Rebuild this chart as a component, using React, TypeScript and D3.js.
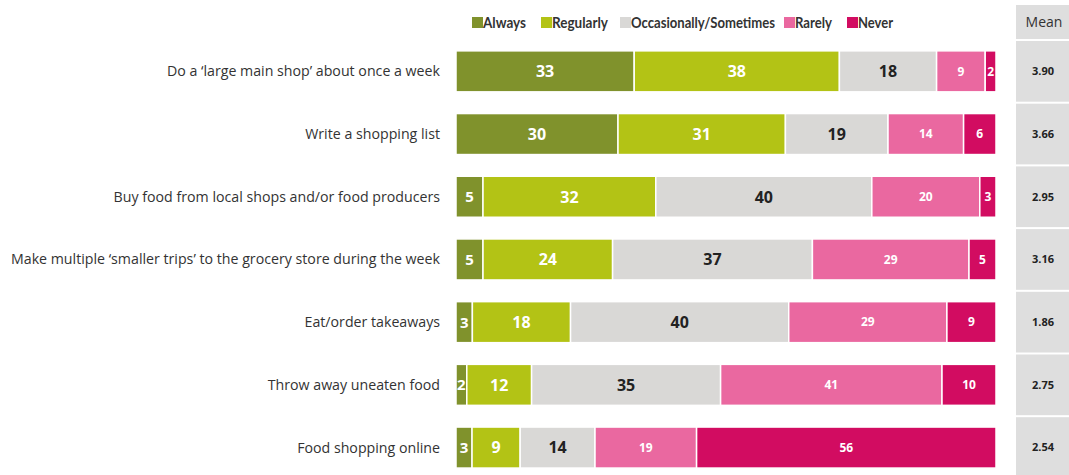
import React from "react";
import * as d3 from "d3";

const categories = [
  "Do a \u2018large main shop\u2019 about once a week",
  "Write a shopping list",
  "Buy food from local shops and/or food producers",
  "Make multiple \u2018smaller trips\u2019 to the grocery store during the week",
  "Eat/order takeaways",
  "Throw away uneaten food",
  "Food shopping online",
];
const seriesNames = ["Always", "Regularly", "Occasionally/Sometimes", "Rarely", "Never"];
const always = [33, 30, 5, 5, 3, 2, 3];
const regularly = [38, 31, 32, 24, 18, 12, 9];
const occasionally = [18, 19, 40, 37, 40, 35, 14];
const rarely = [9, 14, 20, 29, 29, 41, 19];
const never = [2, 6, 3, 5, 9, 10, 56];
const means = ["3.90", "3.66", "2.95", "3.16", "1.86", "2.75", "2.54"];

const colors = ["#80922c", "#b3c315", "#d9d8d6", "#ea68a0", "#d20c61"];
const textColors = ["#ffffff", "#ffffff", "#222222", "#ffffff", "#ffffff"];
const labelSizes = [16, 16, 16, 12, 12];

const W = 1069;
const H = 475;
const FONT = "'Open Sans', 'Noto Sans', sans-serif";

export default function App() {
  const series = [always, regularly, occasionally, rarely, never];
  const x0 = 456;
  const x1 = 996;
  const y = d3.scaleBand<string>().domain(categories).range([41, 41 + 7 * 62.7]).padding(0);
  const barH = 41;

  const legendX = [472, 541, 620, 784, 847];
  const legendW = [43, 56, 144, 37, 35];

  return (
    <svg width={W} height={H} style={{ position: "absolute", left: 0, top: 0, background: "#fff" }} fontFamily={FONT}>
      {/* legend */}
      {seriesNames.map((s, i) => (
        <g key={s}>
          <rect x={legendX[i]} y={17} width={11} height={11} fill={colors[i]} />
          <text
            x={legendX[i] + 11}
            y={27.5}
            fontSize={14.5}
            fontWeight={700}
            fontFamily="Lato, 'Open Sans', sans-serif"
            fill="#333"
            textLength={legendW[i]}
            lengthAdjust="spacingAndGlyphs"
          >
            {s}
          </text>
        </g>
      ))}
      {/* mean header */}
      <rect x={1016} y={5} width={53} height={34} fill="#dedede" />
      <text x={1044} y={27} fontSize={14} textAnchor="middle" fill="#333">
        Mean
      </text>
      {categories.map((c, r) => {
        const total = series.reduce((a, s) => a + s[r], 0);
        const x = d3.scaleLinear().domain([0, total]).range([x0, x1]);
        const by = (y(c) as number) + (y.bandwidth() - barH) / 2 - 1;
        let acc = 0;
        return (
          <g key={c}>
            <text
              x={440}
              y={by + barH / 2}
              dy="0.35em"
              textAnchor="end"
              fontSize={14.2}
              fill="#333"
            >
              {c}
            </text>
            {series.map((s, i) => {
              const v = s[r];
              const a = acc;
              acc += v;
              const xs = x(a);
              const xe = x(a + v);
              return (
                <g key={i}>
                  <rect x={xs} y={by} width={xe - xs} height={barH} fill={colors[i]} stroke="#fff" strokeWidth={1.5} />
                  <text
                    x={(xs + xe) / 2}
                    y={by + barH / 2}
                    dy="0.36em"
                    textAnchor="middle"
                    fontSize={labelSizes[i] + (v < 6 && i < 3 ? -1 : 0)}
                    fontWeight={700}
                    fill={textColors[i]}
                  >
                    {v}
                  </text>
                </g>
              );
            })}
            <rect x={1016} y={(y(c) as number)} width={53} height={y.bandwidth() - 2} fill="#dedede" />
            <text
              x={1043}
              y={(y(c) as number) + (y.bandwidth() - 2) / 2}
              dy="0.35em"
              textAnchor="middle"
              fontSize={11}
              fontWeight={700}
              fill="#222"
            >
              {means[r]}
            </text>
          </g>
        );
      })}
    </svg>
  );
}
